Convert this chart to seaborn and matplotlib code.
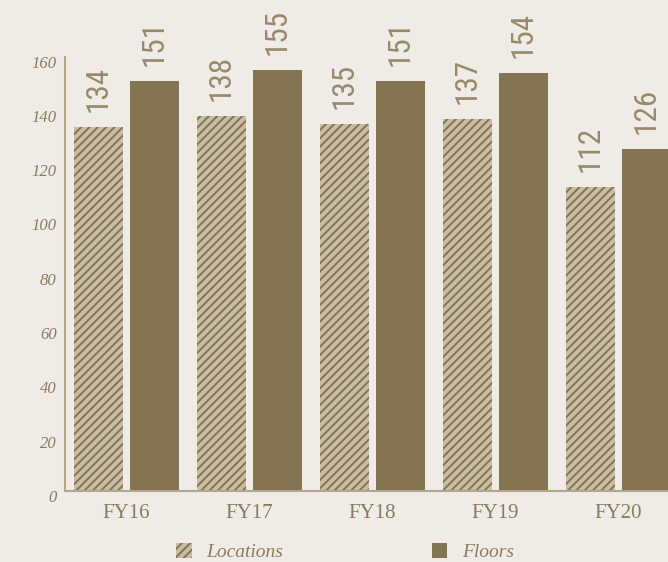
import matplotlib
matplotlib.use("Agg")
import matplotlib.pyplot as plt
import matplotlib.transforms as mtransforms
from matplotlib.patches import Patch
from matplotlib import font_manager
import seaborn as sns
import pandas as pd

years = ["FY16", "FY17", "FY18", "FY19", "FY20"]
locations = [134, 138, 135, 137, 112]
floors = [151, 155, 151, 154, 126]
series_names = ["Locations", "Floors"]
y_ticks = [0, 20, 40, 60, 80, 100, 120, 140, 160]

BG = "#efebe6"
DARK = "#847451"
LIGHT = "#c9bda6"
TEXT = "#8a7b5c"
SPINE = "#b3a68a"

installed = {f.name for f in font_manager.fontManager.ttflist}
narrow = [f for f in ["Liberation Sans Narrow", "DejaVu Sans Condensed", "Roboto Condensed"] if f in installed]
value_family = narrow + ["DejaVu Sans"]

df = pd.DataFrame({
    "year": years * 2,
    "value": locations + floors,
    "series": [series_names[0]] * len(years) + [series_names[1]] * len(years),
})

sns.set_theme(style="white")
plt.rcParams["hatch.color"] = DARK
plt.rcParams["hatch.linewidth"] = 1.4

fig = plt.figure(figsize=(6.68, 5.62), dpi=100, facecolor=BG)
ax = fig.add_axes([65 / 668, 71 / 562, 615 / 668, 434.5 / 562])
ax.set_facecolor(BG)

sns.barplot(data=df, x="year", y="value", hue="series", order=years,
            hue_order=series_names, palette=[LIGHT, DARK], width=0.91, gap=0.125,
            saturation=1, ax=ax, legend=False)

for bar in ax.containers[0]:
    bar.set_hatch("////")
    bar.set_edgecolor(DARK)
    bar.set_linewidth(0)
for bar in ax.containers[1]:
    bar.set_linewidth(0)

vsize = 22.5 if narrow else 17
for cont in ax.containers:
    ax.bar_label(cont, fmt="%d", rotation=90, padding=11,
                 fontsize=vsize, family=value_family, fontstretch="condensed",
                 color="#978a6b")

ax.set_xlim(-0.5, 4.5)
ax.set_ylim(0, 160)
ax.set_yticks(y_ticks)
ax.set_xlabel("")
ax.set_ylabel("")

for s in ["top", "right"]:
    ax.spines[s].set_visible(False)
for s in ["left", "bottom"]:
    ax.spines[s].set_color(SPINE)
    ax.spines[s].set_linewidth(1.5)

ax.tick_params(axis="both", length=0)
ax.tick_params(axis="y", pad=6)
ax.tick_params(axis="x", pad=9)
for lab in ax.get_yticklabels():
    lab.set_fontfamily("Liberation Serif")
    lab.set_fontstyle("italic")
    lab.set_fontsize(12)
    lab.set_color(TEXT)
    lab.set_transform(lab.get_transform() + mtransforms.ScaledTranslation(0, -5 / 100, fig.dpi_scale_trans))
for lab in ax.get_xticklabels():
    lab.set_fontfamily("Liberation Serif")
    lab.set_fontsize(15)
    lab.set_color(TEXT)

handles = [
    Patch(facecolor=LIGHT, edgecolor=DARK, hatch="////", linewidth=0, label=series_names[0]),
    Patch(facecolor=DARK, edgecolor=DARK, linewidth=0, label=series_names[1]),
]
fig.legend(handles=handles, loc="center left", bbox_to_anchor=(176 / 668, 1 - 552 / 562),
           ncol=2, frameon=False, borderpad=0, borderaxespad=0,
           handlelength=0.8, handleheight=0.8, handletextpad=0.75, columnspacing=7.65,
           prop={"family": "Liberation Serif", "style": "italic", "size": 14},
           labelcolor=TEXT)

fig.savefig("out.png", dpi=100, facecolor=BG)
